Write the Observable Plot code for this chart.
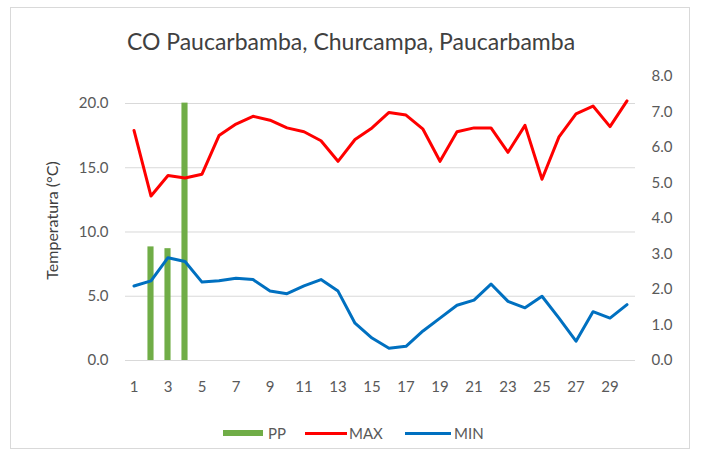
<!DOCTYPE html>
<html>
<head>
<meta charset="utf-8">
<script src="https://cdn.jsdelivr.net/npm/d3@7"></script>
<script src="https://cdn.jsdelivr.net/npm/@observablehq/plot@0.6"></script>
<style>
  html, body { margin: 0; padding: 0; background: #fff; }
  #wrap { position: relative; width: 702px; height: 456px; font-family: Lato, "Open Sans", sans-serif; color: #595959; overflow: hidden; }
  #wrap svg { position: absolute; left: 0; top: 0; }
  .border { position: absolute; left: 10px; top: 7px; width: 680px; height: 442px; border: 1px solid #d9d9d9; box-sizing: border-box; }
  .title { position: absolute; left: 0; width: 702px; top: 27px; text-align: center; font-size: 23px; color: #404040; line-height: 28px; }
  .leg { position: absolute; top: 424px; font-size: 15px; line-height: 18px; }
  .sw { position: absolute; }
</style>
</head>
<body>
<div id="wrap">
  <div class="border"></div>
  <div class="title">CO Paucarbamba, Churcampa, Paucarbamba</div>
  <div id="legend"></div>
</div>
<script>
const days = [1,2,3,4,5,6,7,8,9,10,11,12,13,14,15,16,17,18,19,20,21,22,23,24,25,26,27,28,29,30];
const maxT = [17.9,12.8,14.4,14.2,14.5,17.5,18.4,19.0,18.7,18.1,17.8,17.1,15.5,17.2,18.1,19.3,19.1,18.0,15.5,17.8,18.1,18.1,16.2,18.3,14.1,17.4,19.2,19.8,18.2,20.2];
const minT = [5.8,6.2,8.0,7.7,6.1,6.2,6.4,6.3,5.4,5.2,5.8,6.3,5.4,2.9,1.75,0.95,1.1,2.3,3.3,4.3,4.7,5.95,4.6,4.1,5.0,3.3,1.5,3.8,3.3,4.35];
const pp   = [0,3.2,3.15,7.25,0,0,0,0,0,0,0,0,0,0,0,0,0,0,0,0,0,0,0,0,0,0,0,0,0,0];
const leftTicks = [0,5,10,15,20];
const rightTicks = [0,1,2,3,4,5,6,7,8];
const xTicks = [1,3,5,7,9,11,13,15,17,19,21,23,25,27,29];
const seriesNames = ["PP","MAX","MIN"];
const seriesColors = ["#70AD47","#FF0000","#0070C0"];

const leftMax = 22.1;
const k = leftMax / 8; // right axis (PP) to left axis scale factor

const rows = days.map((d, i) => ({day: d, max: maxT[i], min: minT[i], pp: pp[i]}));

const chart = Plot.plot({
  width: 702,
  height: 456,
  marginLeft: 125,
  marginRight: 67,
  marginTop: 76,
  marginBottom: 96,
  style: {fontFamily: "Lato, 'Open Sans', sans-serif", fontSize: "15px", color: "#595959", background: "transparent"},
  x: {domain: [0.5, 30.5]},
  y: {domain: [0, leftMax]},
  marks: [
    Plot.ruleY(leftTicks, {stroke: "#d9d9d9", strokeWidth: 1}),
    Plot.rectY(rows, {x1: d => d.day - 0.18, x2: d => d.day + 0.18, y1: 0, y2: d => d.pp * k, fill: seriesColors[0]}),
    Plot.line(rows, {x: "day", y: "max", stroke: seriesColors[1], strokeWidth: 3}),
    Plot.line(rows, {x: "day", y: "min", stroke: seriesColors[2], strokeWidth: 3}),
    Plot.axisY({ticks: leftTicks, tickFormat: d => d.toFixed(1), tickSize: 0, tickPadding: 17, label: null}),
    Plot.text(["Temperatura (°C)"], {frameAnchor: "left", textAnchor: "middle", dx: -73, dy: 2, rotate: -90, fontSize: 16, fill: "#404040"}),
    Plot.axisY({anchor: "right", ticks: rightTicks.map(v => v * k), tickFormat: d => (d / k).toFixed(1),
      tickSize: 0, tickPadding: 16, textAnchor: "start", label: null}),
    Plot.axisX({ticks: xTicks, tickFormat: d => String(d), tickSize: 0, tickPadding: 21, label: null})
  ]
});
document.getElementById("wrap").appendChild(chart);

// legend
const legend = document.getElementById("legend");
const legItems = [
  {name: seriesNames[0], color: seriesColors[0], x: 223, w: 40, h: 6, tx: 268},
  {name: seriesNames[1], color: seriesColors[1], x: 305, w: 42, h: 3, tx: 349},
  {name: seriesNames[2], color: seriesColors[2], x: 405, w: 46, h: 3, tx: 454}
];
legItems.forEach(it => {
  const sw = document.createElement("div");
  sw.className = "sw";
  sw.style.cssText = `left:${it.x}px;top:${433 - it.h/2}px;width:${it.w}px;height:${it.h}px;background:${it.color};`;
  legend.appendChild(sw);
  const t = document.createElement("div");
  t.className = "leg";
  t.style.left = it.tx + "px";
  t.textContent = it.name;
  legend.appendChild(t);
});
</script>
</body>
</html>
